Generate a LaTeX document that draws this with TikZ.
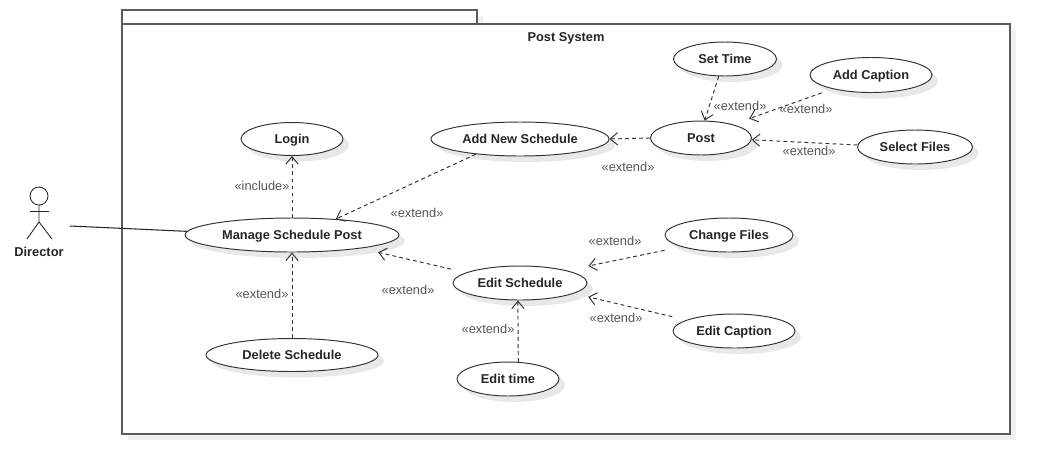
\documentclass[tikz,border=0pt]{standalone}
\usepackage{fontspec}
\setmainfont{Liberation Sans}
\usepackage{xcolor}
\usetikzlibrary{arrows.meta,shapes.geometric,shadows}
\definecolor{l1}{HTML}{5C5C5C}
\definecolor{t1}{HTML}{555555}
\definecolor{s1}{HTML}{E8E8E8}
\definecolor{s2}{HTML}{F1F1F1}
\tikzset{
	boldtext/.style = {font = \fontsize{7.3}{9}\selectfont\bfseries,text = black!85,text height = 4.6pt,text depth = 0pt,inner sep = 0pt},
	usecase/.style = {boldtext,ellipse,draw = black!80,fill = white,line width = 0.55pt,
		drop shadow = {shadow xshift = 3.4pt,shadow yshift = -3.4pt,draw = none,fill = s1,opacity = 1}},
	packagebox/.style = {rectangle,draw = l1,fill = white,line width = 0.8pt,inner sep = 0pt,
		drop shadow = {shadow xshift = 3.6pt,shadow yshift = -3.6pt,draw = none,fill = s2,opacity = 1}},
	stereo/.style = {font = \fontsize{7.3}{9}\selectfont,text = t1,inner sep = 0pt},
	depend/.style = {black!80,line width = 0.55pt,dash pattern = on 2.2pt off 1.8pt,
		-{Straight Barb[length = 4.2pt,width = 7pt]}},
	stick/.style = {black!85,line width = 0.5pt}
}

\begin{document}
\begin{tikzpicture}[x = 0.02cm,y = -0.02cm]
	\useasboundingbox (0,0) rectangle (1050,474);
	% package
	\node [packagebox,minimum width = 7.1cm,minimum height = 0.28cm] (tab) at (299.5,17) {};
	\node [packagebox,minimum width = 17.76cm,minimum height = 8.2cm] (package) at (566,229) {};
	\node [boldtext] (title) at (566,37) {Post System};

	% actor
	\draw [stick] (39,196) circle (9);
	\draw [stick] (39,205) -- (39,222) -- (27,239);
	\draw [stick] (39,222) -- (52,239);
	\draw [stick] (30,211) -- (49,211);
	\node [boldtext] (director) at (39,252) {Director};
	\coordinate (hand) at (70,226);

	% use cases
	\node [usecase,minimum width = 2.04cm,minimum height = 0.66cm] (login) at (292,139) {Login};
	\node [usecase,minimum width = 4.28cm,minimum height = 0.68cm] (manage) at (292,235) {Manage Schedule Post};
	\node [usecase,minimum width = 3.44cm,minimum height = 0.66cm] (delete) at (292,355) {Delete Schedule};
	\node [usecase,minimum width = 3.56cm,minimum height = 0.68cm] (addnew) at (520,139) {Add New Schedule};
	\node [usecase,minimum width = 2.02cm,minimum height = 0.68cm] (post) at (701,138) {Post};
	\node [usecase,minimum width = 2.06cm,minimum height = 0.68cm] (settime) at (725,59) {Set Time};
	\node [usecase,minimum width = 2.44cm,minimum height = 0.70cm] (addcaption) at (871,75) {Add Caption};
	\node [usecase,minimum width = 2.30cm,minimum height = 0.68cm] (selectfiles) at (915,147) {Select Files};
	\node [usecase,minimum width = 2.68cm,minimum height = 0.68cm] (editschedule) at (520,283) {Edit Schedule};
	\node [usecase,minimum width = 2.56cm,minimum height = 0.68cm] (changefiles) at (729,235) {Change Files};
	\node [usecase,minimum width = 2.44cm,minimum height = 0.68cm] (editcaption) at (734,331) {Edit Caption};
	\node [usecase,minimum width = 2.04cm,minimum height = 0.68cm] (edittime) at (508,379) {Edit time};

	% connectors
	\draw [stick,line width = 0.6pt] (hand) -- (manage.178);
	\draw [depend] (manage.north) -- (login.south);
	\draw [depend] (delete.north) -- (manage.south);
	\draw [depend] (addnew.199) -- (manage.20);
	\draw [depend] (post.west) -- (addnew.east);
	\draw [depend] (settime.250) -- (post.78);
	\draw [depend,shorten <= 6.5pt,shorten >= 9.7pt] (addcaption.200) -- (post.23);
	\draw [depend] (selectfiles.178) -- (post.-2);
	\draw [depend,shorten <= 8.8pt,shorten >= 10pt] (editschedule.169) -- (manage.-11);
	\draw [depend,shorten <= 9.9pt,shorten >= 12.5pt] (changefiles.194) -- (editschedule.15);
	\draw [depend,shorten <= 8.2pt,shorten >= 8.3pt] (editcaption.167) -- (editschedule.-11);
	\draw [depend] (edittime.59) -- (editschedule.263);

	% labels
	\node [stereo] (l1) at (262,186) {«include»};
	\node [stereo] (l2) at (262,294) {«extend»};
	\node [stereo] (l3) at (417,213) {«extend»};
	\node [stereo] (l4) at (408,290) {«extend»};
	\node [stereo] (l5) at (740,106) {«extend»};
	\node [stereo] (l6) at (806,109) {«extend»};
	\node [stereo] (l7) at (809,151) {«extend»};
	\node [stereo] (l8) at (628,167) {«extend»};
	\node [stereo] (l9) at (615,241) {«extend»};
	\node [stereo] (l10) at (616,318) {«extend»};
	\node [stereo] (l11) at (488,329) {«extend»};
\end{tikzpicture}
\end{document}
